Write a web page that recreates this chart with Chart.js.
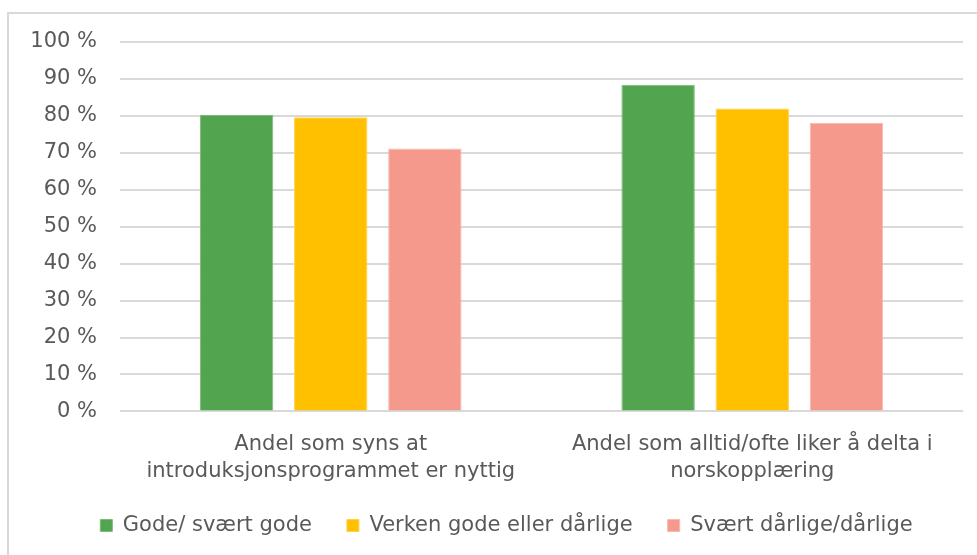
<!DOCTYPE html>
<html>
<head>
<meta charset="utf-8">
<script src="https://cdn.jsdelivr.net/npm/chart.js@4"></script>
<style>
  html, body { margin: 0; padding: 0; background: #fff; }
  #wrap { position: relative; width: 977px; height: 555px; overflow: hidden; }
  #frame { position: absolute; left: 7px; top: 12px; width: 1000px; height: 600px; border: 2px solid #d9d9d9; box-sizing: border-box; }
  canvas { position: absolute; left: 0; top: 0; }
</style>
</head>
<body>
<div id="wrap">
  <div id="frame"></div>
  <canvas id="chart" width="977" height="555"></canvas>
</div>
<script>
const categories = [
  ["Andel som syns at", "introduksjonsprogrammet er nyttig"],
  ["Andel som alltid/ofte liker å delta i", "norskopplæring"]
];
const seriesNames = ["Gode/ svært gode", "Verken gode eller dårlige", "Svært dårlige/dårlige"];
const godeValues = [80.3, 88.4];
const verkenValues = [79.6, 82.0];
const darligeValues = [71.2, 78.1];
const yTicks = [0, 10, 20, 30, 40, 50, 60, 70, 80, 90, 100];

const colors = ["#52a44f", "#ffc000", "#f5998d"];
const borders = ["#7dbb7a", "#ffd24d", "#f9b9b1"];

const textColor = "#595959";
const font = { family: "'DejaVu Sans', sans-serif", size: 21, lineHeight: 1.3 };

// the original legend sits a bit right of the canvas centre and closer to the axis labels
const shiftLegend = {
  id: "shiftLegend",
  afterLayout(chart) {
    chart.legend.left += 25;
    chart.legend.right += 25;
    chart.legend.top -= 16;
    chart.legend.bottom -= 16;
  },
};

const chartConfig = {
  type: "bar",
  data: {
    labels: categories,
    datasets: [godeValues, verkenValues, darligeValues].map((vals, i) => ({
      label: seriesNames[i],
      data: vals,
      backgroundColor: colors[i],
      borderColor: borders[i],
      borderWidth: 1,
      categoryPercentage: 0.67,
      barPercentage: 0.78,
    })),
  },
  options: {
    responsive: false,
    animation: false,
    layout: { padding: { left: 0, right: 14, top: 42, bottom: -7 } },
    scales: {
      x: {
        grid: { display: false },
        border: { display: false },
        ticks: { color: textColor, font: font, padding: 11, maxRotation: 0, autoSkip: false },
      },
      y: {
        min: 0,
        max: 100,
        afterBuildTicks: (scale) => { scale.ticks = yTicks.map(v => ({ value: v })); },
        afterFit: (scale) => { scale.width = 120; },
        grid: { color: "#d9d9d9", lineWidth: 2, drawTicks: false },
        border: { display: false },
        ticks: { color: textColor, font: font, padding: 23, callback: (v) => v + " %" },
      },
    },
    plugins: {
      legend: {
        display: true,
        position: "bottom",
        labels: { color: textColor, font: font, boxWidth: 12, boxHeight: 12, padding: 35 },
      },
      tooltip: { enabled: false },
    },
  },
  plugins: [shiftLegend],
};

new Chart(document.getElementById("chart"), chartConfig);
</script>
</body>
</html>
